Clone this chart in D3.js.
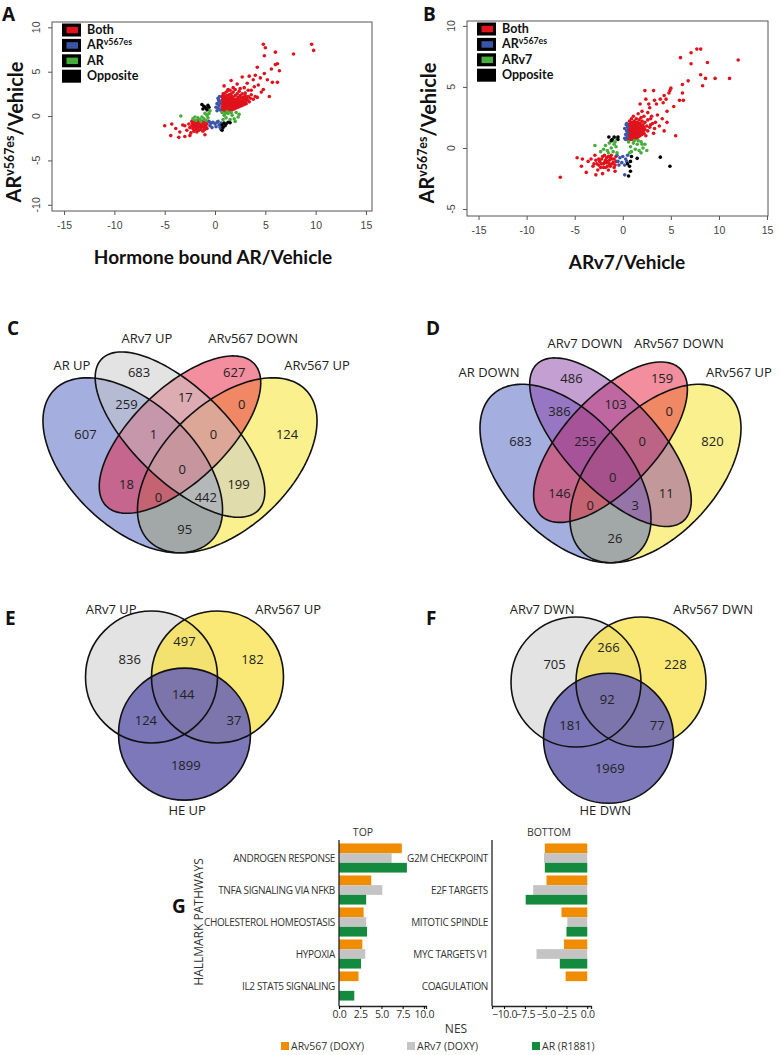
<!DOCTYPE html>
<html>
<head>
<meta charset="utf-8">
<script src="https://cdn.jsdelivr.net/npm/d3@7"></script>
<style>
body { margin: 0; background: #fff; }
svg text { font-family: "Open Sans", sans-serif; fill: #222; }
</style>
</head>
<body>
<div id="chart"></div>
<script>
// ---- scatter data (A: hormone bound AR vs ARv567es, B: ARv7 vs ARv567es) ----
var scatterNamesA = ["Both", "ARv567es", "AR", "Opposite"];
var scatterNamesB = ["Both", "ARv567es", "ARv7", "Opposite"];
var scatterColors = ["#e0121b", "#3b55a6", "#46ad3a", "#000000"];
var xTicksAB = [-15, -10, -5, 0, 5, 10, 15];
var yTicksA = [-10, -5, 0, 5, 10];
var yTicksB = [-5, 0, 5, 10];

var aBoth = [
  [4.8,8.1],[5.0,7.7],[9.6,8.1],[9.8,7.4],[6.0,7.2],[7.8,7.0],[4.9,6.8],[6.2,5.9],[6.0,5.8],[4.2,5.5],
  [5.6,5.3],[6.4,5.1],[4.9,4.8],[4.0,4.6],[2.7,4.4],[3.4,4.5],[3.8,4.1],[4.5,4.3],[5.2,4.1],[5.7,3.8],
  [6.2,3.8],[1.6,4.0],[0.9,3.4],[2.2,3.6],[3.2,3.7],[4.3,3.5],[5.4,2.2],[4.2,2.1],[3.6,2.9],[2.9,3.2],
  [3.0,2.6],[2.5,3.1],[1.8,3.2],[1.3,3.0],[4.8,3.0],[3.9,3.3],[4.6,2.7],[3.3,2.9],
  [0.7,0.6],[0.7,1.0],[0.7,1.4],[0.7,1.8],[0.7,2.2],[0.8,0.8],[0.8,1.2],[0.8,1.6],[0.8,2.0],[0.8,2.5],
  [0.9,0.6],[0.9,1.0],[0.9,1.4],[0.9,1.9],[0.9,2.3],[1.0,0.8],[1.0,1.2],[1.0,1.7],[1.0,2.1],[1.0,2.6],
  [1.1,0.6],[1.1,1.0],[1.1,1.5],[1.1,1.9],[1.2,0.8],[1.2,1.3],[1.2,1.7],[1.2,2.3],[1.2,2.8],
  [1.3,0.6],[1.3,1.1],[1.3,1.5],[1.3,2.0],[1.4,0.8],[1.4,1.3],[1.4,1.8],[1.4,2.4],
  [1.5,0.7],[1.5,1.1],[1.5,1.6],[1.5,2.1],[1.5,2.9],[1.6,0.9],[1.6,1.4],[1.6,1.9],[1.6,2.5],
  [1.7,0.7],[1.7,1.2],[1.7,1.7],[1.7,2.2],[1.8,1.0],[1.8,1.5],[1.8,2.0],[1.8,2.7],
  [1.9,0.8],[1.9,1.3],[1.9,1.8],[2.0,1.1],[2.0,1.6],[2.0,2.3],[2.0,3.0],
  [2.1,0.9],[2.1,1.4],[2.1,1.9],[2.2,1.2],[2.2,1.7],[2.2,2.5],[2.3,1.0],[2.3,1.5],[2.3,2.1],
  [2.4,1.3],[2.4,1.8],[2.4,2.8],[2.5,1.1],[2.5,1.6],[2.5,2.3],[2.6,1.4],[2.6,2.0],[2.7,1.2],[2.7,1.7],[2.7,2.5],
  [2.8,1.5],[2.8,2.1],[2.9,1.3],[2.9,1.9],[3.0,1.6],[3.0,2.3],[3.1,1.4],[3.1,2.0],[3.2,1.8],[3.3,2.2],
  [3.4,1.6],[3.5,2.0],[3.6,2.4],[3.8,1.9],[4.0,2.2],
  [-5.0,-1.1],[-4.3,-0.9],[-4.4,-2.2],[-3.5,-1.8],[-3.6,-2.4],[-3.0,-2.3],[-2.5,-2.2],[-1.0,-2.1],[-3.9,-1.4],[-3.2,-1.0],
  [-2.3,-0.6],[-2.3,-1.1],[-2.2,-0.8],[-2.2,-1.4],[-2.1,-1.0],[-2.1,-1.7],[-2.0,-0.6],[-2.0,-1.2],[-1.9,-0.9],[-1.9,-1.5],
  [-1.8,-0.7],[-1.8,-1.1],[-1.8,-1.8],[-1.7,-0.5],[-1.7,-1.3],[-1.6,-0.9],[-1.6,-1.6],[-1.5,-0.7],[-1.5,-1.2],[-1.4,-1.0],
  [-1.4,-1.5],[-1.3,-0.6],[-1.3,-1.2],[-1.2,-0.9],[-1.2,-1.7],[-1.1,-0.7],[-1.1,-1.3],[-1.0,-1.0],[-1.0,-1.5],[-0.9,-0.6],
  [-0.9,-1.2],[-0.8,-0.9],[-0.8,-1.4],[-2.5,-1.3],[-2.6,-0.9],[-2.8,-1.6],[-3.0,-1.1],[-2.4,-1.9]
];
var aV567 = [
  [0.2,0.6],[0.3,0.9],[0.4,1.2],[0.2,1.4],[0.4,1.7],[0.3,2.0],[0.5,0.7],[0.1,1.0],[0.5,1.5],[0.45,2.2],[0.35,1.8],
  [-0.6,-0.6],[-0.4,-0.8],[-0.2,-0.7],[0.0,-0.9],[0.2,-0.7],[0.4,-1.0],[0.6,-0.8],[-0.5,-1.1],[-0.3,-1.3],[0.1,-1.2],
  [0.5,-1.3],[0.3,-0.6],[0.6,-1.5]
];
var aAR = [
  [-3.4,0.0],[-2.2,-0.3],[-1.9,-0.5],[-1.7,-0.2],[-1.5,-0.4],[-1.3,-0.1],[-1.1,-0.3],[-0.9,-0.5],[-0.7,-0.2],[-0.6,0.3],
  [-0.5,0.6],[-0.8,0.1],[-1.0,0.3],[-2.0,-0.1],[-1.4,-0.6],[0.7,0.4],[0.9,0.1],[1.1,-0.2],[1.3,0.3],[1.5,-0.4],
  [1.7,0.1],[1.9,-0.3],[2.1,0.4],[2.3,-0.1],[0.8,-0.4],[1.2,0.5],[1.6,0.4],[2.0,-0.6],[2.4,0.2],[1.0,0.3]
];
var aOpp = [
  [-1.3,1.3],[-1.1,1.1],[-0.9,0.9],[-0.7,1.2],[-1.2,0.8],[-0.8,0.7],[-1.0,1.0],[-0.6,1.0],
  [0.7,-1.0],[0.9,-0.8],[1.1,-0.9],[1.3,-0.7],[1.5,-0.75],[0.8,-1.3],[0.7,-1.6],[1.0,-1.1]
];

var bBoth = [
  [-6.5,-2.4],[7.7,8.1],[8.1,8.1],[7.1,7.8],[6.0,7.4],[12.0,7.2],[8.8,7.0],[7.1,6.9],[8.1,6.0],[8.6,5.7],
  [9.6,5.7],[11.1,5.7],[8.3,5.1],[6.8,5.5],[6.2,5.2],[2.3,4.7],[3.2,4.7],[5.0,4.9],[4.8,4.5],[4.3,4.3],
  [6.2,4.5],[6.3,3.9],[5.9,3.9],[4.6,3.0],[4.6,2.1],[5.5,1.0],[2.4,4.0],[1.8,3.6],[3.9,4.0],[3.5,3.6],
  [4.2,3.7],[2.8,3.3],[3.6,2.7],[4.1,2.4],[3.0,2.6],[5.3,3.4],[2.0,3.0],[3.8,1.8],[4.3,1.4],[3.2,1.2],
  [4.9,4.7],[4.5,4.0],[3.3,3.9],[2.6,2.9],[3.4,2.1],[2.9,1.9],
  [0.6,0.7],[0.6,1.1],[0.6,1.5],[0.6,1.9],[0.7,0.9],[0.7,1.3],[0.7,1.7],[0.7,2.2],[0.8,0.7],[0.8,1.1],
  [0.8,1.5],[0.8,2.0],[0.9,0.9],[0.9,1.3],[0.9,1.8],[0.9,2.4],[1.0,0.7],[1.0,1.1],[1.0,1.6],[1.0,2.1],
  [1.1,0.9],[1.1,1.4],[1.1,1.9],[1.1,2.6],[1.2,0.7],[1.2,1.2],[1.2,1.7],[1.2,2.2],[1.3,1.0],[1.3,1.5],
  [1.3,2.0],[1.4,0.8],[1.4,1.3],[1.4,1.8],[1.4,2.4],[1.5,1.1],[1.5,1.6],[1.5,2.1],[1.6,0.9],[1.6,1.4],
  [1.6,1.9],[1.6,2.8],[1.7,1.2],[1.7,1.7],[1.7,2.3],[1.8,1.0],[1.8,1.5],[1.8,2.0],[1.9,1.3],[1.9,1.8],
  [1.9,2.5],[2.0,1.1],[2.0,1.6],[2.0,2.2],[2.1,1.4],[2.1,1.9],[2.2,1.2],[2.2,1.7],[2.2,2.6],[2.3,1.5],
  [2.3,2.1],[2.4,1.0],[2.5,1.8],[2.6,1.4],[2.6,2.3],[2.8,1.7],[2.9,2.4],[3.1,2.0],[3.3,1.6],[2.7,3.6],
  [-4.75,-0.8],[-4.2,-0.9],[-4.3,-1.5],[-3.8,-2.0],[-2.8,-2.2],[-2.1,-2.1],[-0.8,-1.9],[-3.6,-1.1],[-2.9,-0.6],[-2.7,-1.3],
  [-2.5,-0.9],[-2.3,-1.6],[-2.1,-0.7],[-1.9,-1.2],[-1.7,-0.8],[-1.6,-1.5],[-1.4,-1.0],[-1.2,-0.6],[-1.1,-1.3],[-0.9,-0.9],
  [-0.8,-1.4],[-1.5,-1.8],[-2.0,-1.6],[-2.6,-1.8],[-3.1,-1.5],[-1.3,-0.8],[-0.7,-0.7],[-1.8,-1.0],[-3.3,-0.9],[-2.4,-1.1],
  [-2.8,-1.0],[-2.5,-1.4],[-2.2,-0.9],[-2.0,-1.3],[-1.9,-0.6],[-1.7,-1.2],[-1.5,-0.7],[-1.3,-1.5],[-1.1,-0.9],[-1.0,-1.2],
  [-0.9,-1.6],[-0.7,-1.1],[-1.6,-1.1],[-2.2,-1.3],[-1.4,-1.3],[-3.0,-1.3],[-1.8,-1.6]
];
var bV567 = [
  [0.2,0.8],[0.3,1.1],[0.4,1.4],[0.5,1.7],[0.4,2.0],[0.3,0.7],[0.5,1.2],[0.2,1.6],[0.45,0.9],[0.35,1.9],
  [-0.6,-0.6],[-0.3,-0.8],[0.0,-0.7],[0.3,-0.9],[0.5,-0.6],[-0.5,-1.1],[-0.1,-1.2],[0.2,-1.4],[-0.4,-1.4],[0.4,-1.1],
  [0.2,-2.2]
];
var bV7 = [
  [-2.9,0.2],[-2.0,-0.1],[-2.3,-0.3],[-1.8,0.2],[-1.6,-0.2],[-1.4,0.4],[-1.2,0.0],[-1.0,-0.3],[-0.8,0.5],[-0.7,0.1],
  [-0.6,-0.4],[-1.5,-0.4],[-0.9,0.3],[-1.1,0.6],[-0.7,0.8],
  [0.6,0.5],[0.8,0.1],[0.9,-0.3],[1.1,0.4],[1.3,-0.1],[1.5,0.3],[1.7,-0.2],[1.9,0.5],[2.1,0.0],[2.3,0.3],
  [1.9,-0.4],[2.5,-0.2],[0.7,-0.4],[1.2,0.6],[1.6,0.6],[2.0,0.3]
];
var bOpp = [
  [-1.45,0.9],[-1.1,0.7],[-0.9,0.9],[-0.5,0.9],[-0.5,0.7],[-1.2,0.6],
  [0.9,-0.7],[1.5,-0.85],[0.5,-1.3],[0.7,-1.5],[0.8,-1.9],[0.6,-2.3],[3.9,-0.75],[4.9,-1.5],[0.8,-1.1]
];

// ---- four-set venn (C, D) ----
var quadRegions = ["B","C","AB","BC","CD","A","ABC","BCD","D","ABCD","AC","BD","ACD","ABD","AD"];
var countsC = [683,627,259,17,0,607,1,0,124,0,18,199,0,442,95];
var countsD = [486,159,386,103,0,683,255,0,820,0,146,11,0,3,26];
var setsC = ["AR UP","ARv7 UP","ARv567 DOWN","ARv567 UP"];
var setsD = ["AR DOWN","ARv7 DOWN","ARv567 DOWN","ARv567 UP"];
var colorsC = ["#4a5fc1","#c8c8c8","#e61e3c","#f5e11e"];
var colorsD = ["#4a5fc1","#8a3fa6","#e61e3c","#f5e11e"];
// layout in unit coordinates (ellipse cx, cy, a, b, rotation); fills are laid down in fillOrder
var quadEllipses = [[0.35,0.47,0.35,0.20,135],[0.50,0.57,0.35,0.15,135],[0.50,0.57,0.33,0.15,45],[0.65,0.47,0.35,0.20,45]];
var fillOrder = [3, 0, 2, 1];
var quadLabelPos = [[0.37,0.773],[0.672,0.773],[0.33,0.668],[0.517,0.69],[0.696,0.668],[0.2,0.572],[0.416,0.572],
  [0.606,0.572],[0.84,0.572],[0.507,0.458],[0.33,0.407],[0.686,0.407],[0.432,0.367],[0.582,0.367],[0.515,0.263]];
var setPosC = [[0.157,0.797],[0.395,0.885],[0.732,0.885],[0.935,0.797]];
var setPosD = [[0.095,0.794],[0.415,0.887],[0.728,0.887],[0.928,0.794]];

// ---- three-set venn (E, F) ----
var triRegions = ["A","AB","B","ABC","AC","BC","C"];
var countsE = [836,497,182,144,124,37,1899];
var countsF = [705,266,228,92,181,77,1969];
var setsE = ["ARv7 UP","ARv567 UP","HE UP"];
var setsF = ["ARv7 DWN","ARv567 DWN","HE DWN"];
var triColors = ["#e3e3e3","#f8e24a","#6e69b1"];
var triOpacity = [1, 0.75, 0.9];
var triCenters = [[-0.5,0],[0.5,0],[0,0.866]];
var triLabelPos = [[-0.83,-0.27],[0,-0.535],[1.03,-0.27],[-0.02,0.26],[-0.585,0.66],[0.75,0.66],[0.02,1.335]];
var setPosE = [[-1.11,-1.03],[1.57,-1.03],[0.04,2.02]];
var setPosF = [[-1.02,-1.12],[1.61,-1.12],[-0.05,1.97]];

// ---- hallmark NES bars (G) ----
var pathTop = ["ANDROGEN RESPONSE","TNFA SIGNALING VIA NFKB","CHOLESTEROL HOMEOSTASIS","HYPOXIA","IL2 STAT5 SIGNALING"];
var nesTopV567 = [7.4, 3.8, 2.9, 2.75, 2.3];
var nesTopV7   = [6.2, 5.1, 3.2, 3.1, 0];
var nesTopAR   = [8.0, 3.2, 3.3, 2.6, 1.8];
var pathBottom = ["G2M CHECKPOINT","E2F TARGETS","MITOTIC SPINDLE","MYC TARGETS V1","COAGULATION"];
var nesBotV567 = [-5.1, -4.9, -3.1, -2.8, -2.6];
var nesBotV7   = [-5.2, -6.5, -2.4, -6.1, 0];
var nesBotAR   = [-5.1, -7.4, -2.5, -3.3, 0];
var seriesNames = ["ARv567 (DOXY)","ARv7 (DOXY)","AR (R1881)"];
var seriesColors = ["#f08c00","#c4c4c4","#138a3e"];
var ticksTop = [0, 2.5, 5, 7.5, 10];
var ticksBot = [-10, -7.5, -5, -2.5, 0];

var svg = d3.select("#chart").append("svg")
    .attr("width", 780)
    .attr("height", 1055);

function panelLetter(t, x, y) {
  svg.append("text").attr("x", x).attr("y", y)
    .style("font-size", "19px").style("font-weight", "700").style("fill", "#111")
    .text(t);
}

// superscripted title "AR^v567es/Vehicle"
function supTitle(sel) {
  sel.append("tspan").text("AR");
  sel.append("tspan").attr("dy", "-0.55em").style("font-size", "62%").text("v567es");
  sel.append("tspan").attr("dy", "0.42em").text("/Vehicle");
}

function scatter(o) {
  var g = svg.append("g");
  var x = d3.scaleLinear().domain(o.xDom).range([o.left, o.right]);
  var y = d3.scaleLinear().domain(o.yDom).range([o.bottom, o.top]);

  g.append("rect")
    .attr("x", o.left).attr("y", o.top)
    .attr("width", o.right - o.left).attr("height", o.bottom - o.top)
    .attr("fill", "none").attr("stroke", "#555").attr("stroke-width", 1);

  var xa = g.append("g")
    .attr("transform", "translate(0," + o.bottom + ")")
    .call(d3.axisBottom(x).tickValues(o.xTicks).tickSize(4).tickPadding(7).tickFormat(function(d) { return String(d); }));
  xa.select(".domain").remove();
  xa.selectAll("line").attr("stroke", "#555");
  xa.selectAll("text").style("font-family", "Liberation Sans, Arial, sans-serif").style("font-size", "10.5px").style("fill", "#444");

  var ya = g.append("g")
    .attr("transform", "translate(" + o.left + ",0)")
    .call(d3.axisLeft(y).tickValues(o.yTicks).tickSize(4).tickFormat(""));
  ya.select(".domain").remove();
  ya.selectAll("line").attr("stroke", "#555");
  g.selectAll(null).data(o.yTicks).join("text")
    .attr("transform", function(d) { return "translate(" + (o.left - 12) + "," + y(d) + ") rotate(-90)"; })
    .attr("text-anchor", "middle")
    .style("font-family", "Liberation Sans, Arial, sans-serif").style("font-size", "10.5px").style("fill", "#444")
    .text(function(d) { return String(d); });

  o.series.forEach(function(pts, i) {
    g.selectAll(null).data(pts).join("circle")
      .attr("cx", function(d) { return x(d[0]); })
      .attr("cy", function(d) { return y(d[1]); })
      .attr("r", 1.8)
      .attr("fill", scatterColors[i]);
  });

  // legend
  o.names.forEach(function(n, i) {
    var ly = o.top + 8 + i * 15.4;
    g.append("rect").attr("x", o.left + 10).attr("y", ly - 6.5).attr("width", 19).attr("height", 13).attr("fill", "#000");
    g.append("rect").attr("x", o.left + 14.5).attr("y", ly - 3.2).attr("width", 11.5).attr("height", 6.5).attr("fill", scatterColors[i]);
    var t = g.append("text").attr("x", o.left + 35).attr("y", ly + 4)
      .style("font-family", "Lato, sans-serif").style("font-weight", "700").style("font-size", "12.5px").style("fill", "#111");
    if (n === "ARv567es") {
      t.append("tspan").text("AR");
      t.append("tspan").attr("dy", "-0.5em").style("font-size", "70%").text("v567es");
    } else t.text(n);
  });

  svg.append("text").attr("x", o.xtX).attr("y", o.xtY).attr("text-anchor", "middle")
    .style("font-family", "Lato, sans-serif").style("font-weight", "700").style("font-size", "19px").style("fill", "#111")
    .text(o.xTitle);
  var yt = svg.append("text")
    .attr("transform", "translate(" + o.ytX + "," + o.ytY + ") rotate(-90)")
    .attr("text-anchor", "middle")
    .style("font-family", "Lato, sans-serif").style("font-weight", "700").style("font-size", "20px").style("fill", "#111");
  supTitle(yt);
}

scatter({left: 52, right: 372, top: 22, bottom: 211, xDom: [-16.2, 15.6], yDom: [-10.7, 10.6],
  xTicks: xTicksAB, yTicks: yTicksA, series: [aBoth, aV567, aAR, aOpp], names: scatterNamesA,
  xTitle: "Hormone bound AR/Vehicle", xtX: 213, xtY: 264, ytX: 21, ytY: 132});
scatter({left: 467, right: 768, top: 21, bottom: 216, xDom: [-16.2, 15.1], yDom: [-5.57, 10.4],
  xTicks: xTicksAB, yTicks: yTicksB, series: [bBoth, bV567, bV7, bOpp], names: scatterNamesB,
  xTitle: "ARv7/Vehicle", xtX: 627, xtY: 269, ytX: 434, ytY: 133});
panelLetter("A", 2, 21);
panelLetter("B", 423, 21);

// ---- quad venn ----
function quadVenn(o) {
  var g = svg.append("g");
  var x = d3.scaleLinear().domain([0, 1]).range(o.xr);
  var y = d3.scaleLinear().domain([0, 1]).range(o.yr);
  var line = d3.line().x(function(p) { return x(p[0]); }).y(function(p) { return y(p[1]); }).curve(d3.curveLinearClosed);
  var shapes = quadEllipses.map(function(e) {
    var th = e[4] * Math.PI / 180, pts = [];
    for (var i = 0; i < 160; i++) {
      var t = i / 160 * 2 * Math.PI;
      pts.push([e[0] + e[2] * Math.cos(t) * Math.cos(th) - e[3] * Math.sin(t) * Math.sin(th),
                e[1] + e[2] * Math.cos(t) * Math.sin(th) + e[3] * Math.sin(t) * Math.cos(th)]);
    }
    return pts;
  });
  g.selectAll(null).data(fillOrder).join("path")
    .attr("d", function(k) { return line(shapes[k]); })
    .attr("fill", function(k) { return o.colors[k]; }).attr("fill-opacity", 0.5);
  g.selectAll(null).data(shapes).join("path")
    .attr("d", line).attr("fill", "none").attr("stroke", "#111").attr("stroke-width", 1.6);
  g.selectAll(null).data(o.counts).join("text")
    .attr("x", function(d, i) { return x(quadLabelPos[i][0]); })
    .attr("y", function(d, i) { return y(quadLabelPos[i][1]); })
    .attr("dy", "0.36em").attr("text-anchor", "middle").style("font-size", "13px")
    .text(function(d) { return d; });
  g.selectAll(null).data(o.sets).join("text")
    .attr("x", function(d, i) { return x(o.setPos[i][0]); })
    .attr("y", function(d, i) { return y(o.setPos[i][1]); })
    .attr("dy", "0.36em").attr("text-anchor", "middle").style("font-size", "13px")
    .text(function(d) { return d; });
}
quadVenn({xr: [22.5, 337.5], yr: [609.6, 302.6], counts: countsC, sets: setsC, setPos: setPosC, colors: colorsC});
quadVenn({xr: [460.5, 760.5], yr: [620.6, 307.6], counts: countsD, sets: setsD, setPos: setPosD, colors: colorsD});
panelLetter("C", 7, 335);
panelLetter("D", 426, 335);

// ---- triple venn ----
function triVenn(o) {
  var g = svg.append("g");
  var x = d3.scaleLinear().domain([0, 1]).range([o.ox, o.ox + o.r]);
  var y = d3.scaleLinear().domain([0, 1]).range([o.oy, o.oy + o.r]);
  g.selectAll(null).data(triCenters).join("circle")
    .attr("cx", function(d) { return x(d[0]); }).attr("cy", function(d) { return y(d[1]); })
    .attr("r", o.r).attr("fill", function(d, i) { return triColors[i]; })
    .attr("fill-opacity", function(d, i) { return triOpacity[i]; });
  g.selectAll(null).data(triCenters).join("circle")
    .attr("cx", function(d) { return x(d[0]); }).attr("cy", function(d) { return y(d[1]); })
    .attr("r", o.r).attr("fill", "none").attr("stroke", "#111").attr("stroke-width", 1.6);
  g.selectAll(null).data(o.counts).join("text")
    .attr("x", function(d, i) { return x(triLabelPos[i][0]); })
    .attr("y", function(d, i) { return y(triLabelPos[i][1]); })
    .attr("dy", "0.36em").attr("text-anchor", "middle").style("font-size", "13px")
    .text(function(d) { return d; });
  g.selectAll(null).data(o.sets).join("text")
    .attr("x", function(d, i) { return x(o.setPos[i][0]); })
    .attr("y", function(d, i) { return y(o.setPos[i][1]); })
    .attr("dy", "0.36em").attr("text-anchor", "middle").style("font-size", "13px")
    .text(function(d) { return d; });
}
triVenn({ox: 184.5, oy: 677, r: 66, counts: countsE, sets: setsE, setPos: setPosE});
triVenn({ox: 608.5, oy: 682, r: 65, counts: countsF, sets: setsF, setPos: setPosF});
panelLetter("E", 5, 625);
panelLetter("F", 426, 625);

// ---- NES bar panels ----
function nesBars(o) {
  var g = svg.append("g");
  var x = d3.scaleLinear().domain(o.xDom).range([o.left, o.right]);
  var y = d3.scaleBand().domain(o.cats).range([842, 1002]).paddingInner(0.09).paddingOuter(0.045);
  var ys = d3.scaleBand().domain([0, 1, 2]).range([0, y.bandwidth()]);
  var rows = [];
  o.cats.forEach(function(c, i) {
    o.vals.forEach(function(v, s) { rows.push({cat: c, s: s, v: v[i]}); });
  });
  g.selectAll(null).data(rows).join("rect")
    .attr("x", function(d) { return x(Math.min(0, d.v)); })
    .attr("y", function(d) { return y(d.cat) + ys(d.s); })
    .attr("width", function(d) { return Math.abs(x(d.v) - x(0)); })
    .attr("height", ys.bandwidth())
    .attr("fill", function(d) { return seriesColors[d.s]; });

  var xa = g.append("g").attr("transform", "translate(0,1006)")
    .call(d3.axisBottom(x).tickValues(o.ticks).tickSize(3).tickPadding(2).tickFormat(d3.format(".1f")));
  xa.select(".domain").attr("stroke", "#222").attr("stroke-width", 1.3);
  xa.selectAll("text").style("font-size", "10.5px").style("fill", "#333").style("letter-spacing", "-0.3px");
  g.append("line").attr("x1", o.left).attr("x2", o.left).attr("y1", 840).attr("y2", 1006)
    .attr("stroke", "#222").attr("stroke-width", 1.3);

  g.selectAll(null).data(o.cats).join("text")
    .attr("x", o.left - 4)
    .attr("y", function(d) { return y(d) + y.bandwidth() / 2; })
    .attr("dy", "0.36em").attr("text-anchor", "end")
    .style("font-size", "10px").style("letter-spacing", "-0.35px").style("fill", "#333")
    .text(function(d) { return d; });
  g.append("text").attr("x", o.titleX).attr("y", 836).attr("text-anchor", "middle")
    .style("font-size", "10.5px").style("fill", "#333").text(o.title);
}
nesBars({left: 339, right: 426, xDom: [0, 10.25], cats: pathTop, vals: [nesTopV567, nesTopV7, nesTopAR],
  ticks: ticksTop, title: "TOP", titleX: 363});
nesBars({left: 492, right: 591, xDom: [-11.45, 0.45], cats: pathBottom, vals: [nesBotV567, nesBotV7, nesBotAR],
  ticks: ticksBot, title: "BOTTOM", titleX: 549});

svg.append("text")
  .attr("transform", "translate(203,922) rotate(-90)")
  .attr("text-anchor", "middle").style("font-size", "12px").style("fill", "#333")
  .text("HALLMARK PATHWAYS");
svg.append("text").attr("x", 456).attr("y", 1033).attr("text-anchor", "middle")
  .style("font-size", "12px").style("fill", "#333").text("NES");
var legX = [281, 407, 532];
seriesNames.forEach(function(n, i) {
  svg.append("rect").attr("x", legX[i]).attr("y", 1042).attr("width", 8).attr("height", 8).attr("fill", seriesColors[i]);
  svg.append("text").attr("x", legX[i] + 10).attr("y", 1050)
    .style("font-size", "10.5px").style("fill", "#333").text(n);
});
panelLetter("G", 172, 913);
</script>
</body>
</html>
